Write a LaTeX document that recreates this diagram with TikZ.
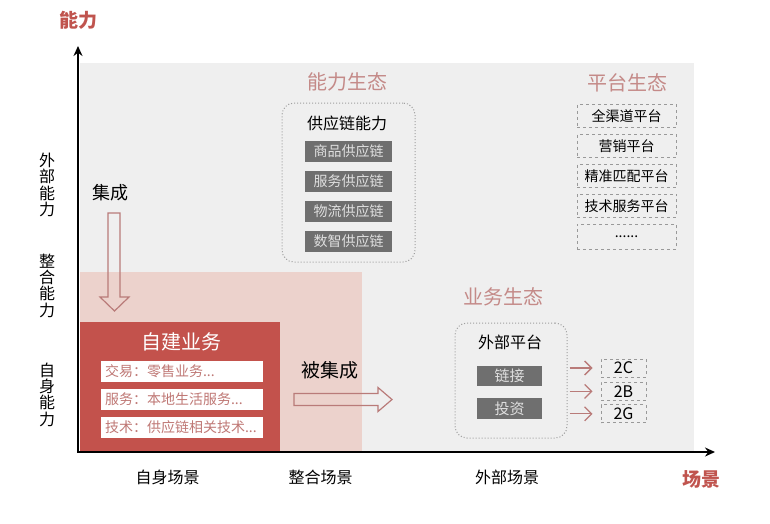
\documentclass[tikz,border=0pt]{standalone}
\usepackage{fontspec}
\setmainfont{Noto Sans CJK SC}
\usetikzlibrary{arrows.meta,positioning,calc}
\definecolor{axisred}{HTML}{C0544E}
\definecolor{ecopink}{HTML}{C48A88}
\definecolor{bggray}{HTML}{EFEFEF}
\definecolor{midpink}{HTML}{ECD2CC}
\definecolor{selfred}{HTML}{C3524C}
\definecolor{itemred}{HTML}{BF7875}
\definecolor{boxgray}{HTML}{6F6F6F}
\definecolor{edgepink}{HTML}{B97B79}

\begin{document}
\begin{tikzpicture}[x=1pt,y=-1pt,>=Stealth,
  title/.style={text=ecopink,font=\fontsize{20}{20}\selectfont},
  lbl/.style={font=\fontsize{16}{16}\selectfont},
  vlbl/.style={align=center,font=\fontsize{16}{16.3}\selectfont},
  grp/.style={draw=gray!75,dotted,line width=1pt,rounded corners=12pt},
  darkbox/.style={fill=boxgray,text=gray!25,font=\fontsize{14}{14}\selectfont,inner sep=0pt,minimum height=21pt},
  platbox/.style={draw=gray!80,dashed,line width=.9pt,font=\fontsize{14}{14}\selectfont,inner sep=0pt,minimum width=99pt,minimum height=23.5pt},
  itembox/.style={fill=white,text=itemred,font=\fontsize{14}{14}\selectfont,inner xsep=4pt,inner ysep=0pt,text width=154pt,align=left,minimum height=21pt},
  hollow/.style={draw=edgepink,line width=1.2pt},
  axisname/.style={text=axisred,font=\bfseries\fontsize{19}{19}\selectfont}]
\useasboundingbox (0,0) rectangle (770,523);
\fill[bggray] (80,63) rectangle (694,452);
\fill[midpink] (80,272) rectangle (362,452);
\fill[selfred] (80,322) rectangle (280,452);
\coordinate (o) at (78,452);
\draw[line width=1.8pt,-{Stealth[length=10pt,width=9pt]}] ([yshift=1pt]o) -- (78,46);
\draw[line width=1.8pt,-{Stealth[length=10pt,width=9pt]}] ([xshift=-1pt]o) -- (715,452);
\node[axisname] (ylab) at (78,20) {能力};
\node[axisname] (xlab) at (701,479) {场景};
\node[vlbl] (outcap) at (47,185) {外\\部\\能\\力};
\node[vlbl] (midcap) at (47,285.5) {整\\合\\能\\力};
\node[vlbl] (selfcap) at (47,394.5) {自\\身\\能\\力};
\node[lbl] (selfsc) at (167.5,477.5) {自身场景};
\node[lbl] (midsc) at (320.5,477.5) {整合场景};
\node[lbl] (outsc) at (507,477.5) {外部场景};
\node[font=\fontsize{20}{20}\selectfont,text=white] (selfbiz) at (181,342) {自建业务};
\node[itembox] (trade) at (182,371) {交易：零售业务...};
\node[itembox,below=7pt of trade] (serv) {服务：本地生活服务...};
\node[itembox,below=6.5pt of serv] (tech) {技术：供应链相关技术...};
\node[font=\fontsize{18}{18}\selectfont] (integ) at (110,193) {集成};
\draw[hollow] (108,213)--(120,213)--(120,297)--(129,297)--(114.5,311)--(100,297)--(108,297)--cycle;
\node[font=\fontsize{19}{19}\selectfont] (beinteg) at (330,370) {被集成};
\draw[hollow] (294,393.5)--(378,393.5)--(378,387.5)--(392,399.5)--(378,411.5)--(378,405.5)--(294,405.5)--cycle;
\node[title] (capeco) at (347.5,82) {能力生态};
\node[grp,minimum width=133pt,minimum height=159pt] (supgrp) at (348.5,182.5) {};
\node[font=\fontsize{16}{16}\selectfont] (supcap) at (347,123.5) {供应链能力};
\node[darkbox,minimum width=87pt] (goods) at (348.5,151.5) {商品供应链};
\node[darkbox,minimum width=87pt,below=8.5pt of goods] (svc) {服务供应链};
\node[darkbox,minimum width=87pt,below=8.5pt of svc] (logi) {物流供应链};
\node[darkbox,minimum width=87pt,below=8.5pt of logi] (data) {数智供应链};
\node[title] (plateco) at (627,83) {平台生态};
\node[platbox] (allch) at (626.5,116) {全渠道平台};
\node[platbox,below=5.5pt of allch] (mkt) {营销平台};
\node[platbox,below=5.5pt of mkt] (match) {精准匹配平台};
\node[platbox,below=5.5pt of match] (techsvc) {技术服务平台};
\node[platbox,below=6pt of techsvc,minimum height=25pt] (more) {......};
\node[title] (bizeco) at (503,297) {业务生态};
\node[grp,minimum width=112pt,minimum height=115pt] (extgrp) at (511,380.5) {};
\node[font=\fontsize{16}{16}\selectfont] (extplat) at (510,342.5) {外部平台};
\node[darkbox,minimum width=65pt,minimum height=20.5pt,font=\fontsize{15}{15}\selectfont] (link) at (509.5,376) {链接};
\node[darkbox,minimum width=65pt,minimum height=20.5pt,font=\fontsize{15}{15}\selectfont] (invest) at (509.5,408.5) {投资};
\node[platbox,minimum width=45pt,minimum height=18pt,font=\fontsize{16}{16}\selectfont] (toC) at (623.5,368) {2C};
\node[platbox,minimum width=45pt,minimum height=18pt,font=\fontsize{16}{16}\selectfont,below=4.5pt of toC] (toB) {2B};
\node[platbox,minimum width=45pt,minimum height=18pt,font=\fontsize{16}{16}\selectfont,below=3.5pt of toB] (toG) {2G};
\foreach \t in {toC,toB,toG}
  \draw[edgepink,line width=1.3pt,-{Straight Barb[length=7pt,width=14pt]},shorten <=2pt,shorten >=8pt] (extgrp.east |- \t.west) -- (\t.west);
\end{tikzpicture}
\end{document}
